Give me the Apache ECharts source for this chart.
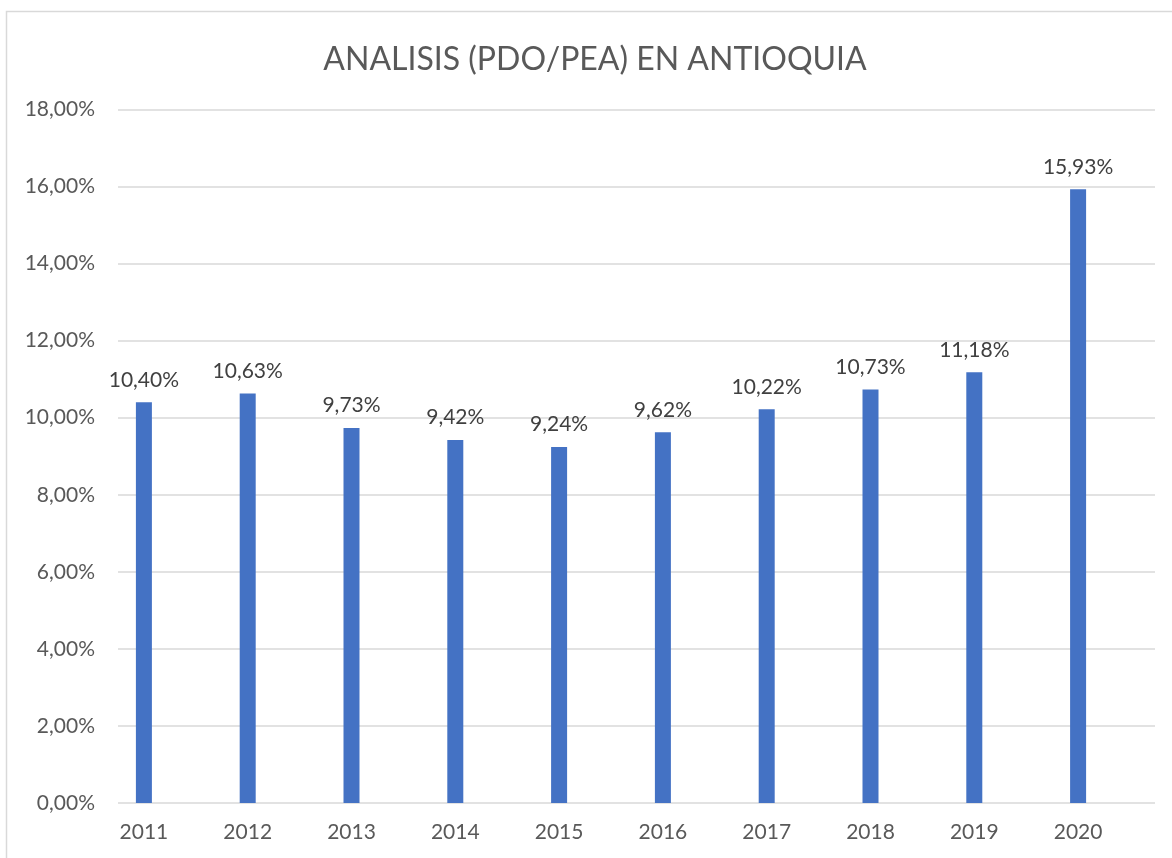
<!DOCTYPE html>
<html>
<head>
<meta charset="utf-8">
<script src="https://cdn.jsdelivr.net/npm/echarts@6/dist/echarts.min.js"></script>
<style>
  html, body { margin: 0; padding: 0; background: #ffffff; }
  #chart { width: 1172px; height: 858px; }
</style>
</head>
<body>
<div id="chart"></div>
<script>
// Tasa de desempleo (PDO/PEA) por año, en porcentaje
const years = ['2011', '2012', '2013', '2014', '2015', '2016', '2017', '2018', '2019', '2020'];
const ratePct = [10.40, 10.63, 9.73, 9.42, 9.24, 9.62, 10.22, 10.73, 11.18, 15.93];
const axisMin = 0;
const axisMax = 18;
const axisStep = 2;

const FONT = 'Lato, "Open Sans", sans-serif';
const fmtPct = v => v.toFixed(2).replace('.', ',') + '%';

const chart = echarts.init(document.getElementById('chart'));
chart.setOption({
  backgroundColor: '#ffffff',
  animation: false,
  title: {
    text: 'ANALISIS (PDO/PEA) EN ANTIOQUIA',
    left: 590,
    top: 39,
    textAlign: 'center',
    textStyle: { fontFamily: FONT, fontSize: 32, fontWeight: 'normal', color: '#595959' }
  },
  graphic: [{
    type: 'rect',
    shape: { x: 6.5, y: 11.5, width: 1200, height: 900 },
    style: { fill: 'none', stroke: '#d9d9d9', lineWidth: 1.5 },
    silent: true
  }],
  grid: [
    // bars
    { left: 92, right: 42, top: 109.5, bottom: 55 },
    // value scale with gridlines
    { left: 118, right: 17, top: 109.5, bottom: 55 }
  ],
  xAxis: [
    {
      type: 'category', gridIndex: 0, data: years,
      axisLine: { show: false }, axisTick: { show: false },
      axisLabel: { fontFamily: FONT, fontSize: 21, color: '#595959', margin: 19 }
    },
    {
      type: 'category', gridIndex: 1, data: years, show: false
    }
  ],
  yAxis: [
    { type: 'value', gridIndex: 0, min: axisMin, max: axisMax, interval: axisStep, show: false },
    {
      type: 'value', gridIndex: 1, min: axisMin, max: axisMax, interval: axisStep,
      axisLine: { show: false }, axisTick: { show: false },
      axisLabel: { fontFamily: FONT, fontSize: 21, color: '#595959', margin: 23, formatter: v => fmtPct(v) },
      splitLine: { lineStyle: { color: '#d9d9d9', width: 1.5 } }
    }
  ],
  series: [{
    type: 'bar',
    xAxisIndex: 0, yAxisIndex: 0,
    data: ratePct,
    barWidth: 16,
    itemStyle: { color: '#4472C4' },
    label: {
      show: true, position: 'top', distance: 12,
      fontFamily: FONT, fontSize: 21, color: '#404040',
      formatter: p => fmtPct(p.value)
    }
  }]
});
</script>
</body>
</html>
